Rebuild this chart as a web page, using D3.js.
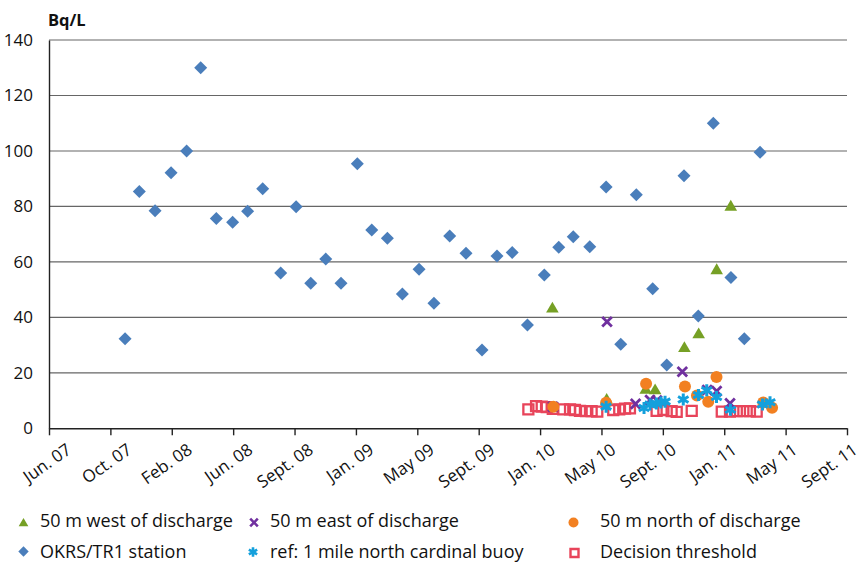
<!DOCTYPE html>
<html><head><meta charset="utf-8">
<script src="https://cdn.jsdelivr.net/npm/d3@7"></script>
<style>
body{margin:0;background:#fff}
text{font-family:"Open Sans",sans-serif;fill:#111}
</style>
</head><body>
<svg id="chart" width="865" height="564"></svg>
<script>
// ---- data (x = decimal year, y = Bq/L) ----
const yTickValues = [0, 20, 40, 60, 80, 100, 120, 140];
const xTickLabels = ["Jun. 07","Oct. 07","Feb. 08","Jun. 08","Sept. 08","Jan. 09","May 09","Sept. 09","Jan. 10","May 10","Sept. 10","Jan. 11","May 11","Sept. 11"];
const xStart = 2007.417, xEnd = 2011.667;

const okrsDates  = [2007.822,2007.898,2007.982,2008.067,2008.150,2008.225,2008.308,2008.395,2008.475,2008.555,2008.651,2008.733,2008.811,2008.891,2008.972,2009.059,2009.136,2009.219,2009.299,2009.388,2009.467,2009.551,2009.638,2009.723,2009.803,2009.884,2009.965,2010.055,2010.132,2010.209,2010.297,2010.384,2010.462,2010.545,2010.632,2010.707,2010.799,2010.875,2010.955,2011.049,2011.120,2011.204];
const okrsValues = [32.3,85.4,78.4,92.1,100,130,75.6,74.3,78.3,86.4,56,79.9,52.3,61,52.3,95.4,71.5,68.5,48.4,57.3,45.1,69.3,63.1,28.2,62.1,63.4,37.2,55.3,65.3,69.1,65.5,87,30.3,84.2,50.3,22.8,91.1,40.5,110,54.4,32.3,99.5];

const westDates  = [2010.098,2010.387,2010.595,2010.645,2010.801,2010.877,2010.973,2011.048];
const westValues = [43.5,10.6,14.2,14,29.2,34.2,57.3,80.2];

const eastDates  = [2010.101,2010.389,2010.541,2010.618,2010.655,2010.790,2010.922,2010.973,2011.044];
const eastValues = [7.8,38.4,8.8,10.2,10,20.4,13.8,13.4,9];

const northDates  = [2010.103,2010.384,2010.597,2010.804,2010.868,2010.928,2010.972,2011.221,2011.268];
const northValues = [7.8,9.2,16.1,15.1,11.8,9.6,18.5,9.3,7.4];

const buoyDates  = [2010.384,2010.586,2010.618,2010.652,2010.676,2010.698,2010.795,2010.876,2010.920,2010.972,2011.046,2011.217,2011.257];
const buoyValues = [7.8,7.3,8.6,8.9,9.3,9.6,10.4,12,13.7,11.3,6.7,8.6,9.4];

const thresholdDates  = [2009.970,2010.011,2010.041,2010.068,2010.100,2010.156,2010.192,2010.218,2010.245,2010.277,2010.307,2010.337,2010.422,2010.454,2010.485,2010.511,2010.653,2010.689,2010.733,2010.760,2010.840,2011.000,2011.044,2011.080,2011.115,2011.150,2011.186];
const thresholdValues = [6.8,8,7.8,7.6,7,6.8,6.8,6.6,6.3,6.2,6.2,6,6.6,6.8,7.1,7.2,6.3,6.6,6.2,5.9,6.3,6,6,6.2,6.2,6.2,6];

const legendLabels = ["50 m west of discharge","50 m east of discharge","50 m north of discharge","OKRS/TR1 station","ref: 1 mile north cardinal buoy","Decision threshold"];

// ---- styles ----
const COLORS = {west:"#76a025", east:"#70309f", north:"#f28021", okrs:"#4a7ebb", buoy:"#14a0dc", thr:"#e8445a"};

const svg = d3.select("#chart");
const pLeft = 49, pRight = 847, pTop = 40, pBottom = 428.3;
const x = d3.scaleLinear().domain([xStart, xEnd]).range([pLeft, pRight]);
const y = d3.scaleLinear().domain([0, 140]).range([pBottom, pTop]);

// gridlines
svg.append("g").selectAll("line").data(yTickValues.filter(v => v > 0)).join("line")
  .attr("x1", pLeft).attr("x2", pRight)
  .attr("y1", d => y(d)).attr("y2", d => y(d))
  .attr("stroke", "#666").attr("stroke-width", 1.1);

// y axis
const yAxis = svg.append("g").attr("transform", `translate(${pLeft},0)`)
  .call(d3.axisLeft(y).tickValues(yTickValues).tickSize(0).tickPadding(16));
yAxis.select(".domain").attr("stroke", "#222").attr("stroke-width", 1.4);
yAxis.selectAll("text").attr("font-size", 17).attr("fill", "#111").attr("font-family", '"Open Sans",sans-serif');

// x axis
const xTickValues = d3.range(xTickLabels.length).map(i => xStart + i * (xEnd - xStart) / (xTickLabels.length - 1));
const xAxis = svg.append("g").attr("transform", `translate(0,${pBottom})`)
  .call(d3.axisBottom(x).tickValues(xTickValues).tickSize(7).tickSizeOuter(0).tickFormat((d, i) => xTickLabels[i]));
xAxis.select(".domain").attr("stroke", "#222").attr("stroke-width", 1.4);
xAxis.selectAll(".tick line").attr("stroke", "#222").attr("stroke-width", 1.4);
xAxis.selectAll("text")
  .attr("font-size", 17).attr("fill", "#111").attr("font-family", '"Open Sans",sans-serif')
  .attr("text-anchor", "end").attr("y", 0).attr("dy", "0.72em")
  .attr("transform", (d, i) => `translate(${16 - 0.9 * i},${14}) rotate(-35)`);

// unit label
svg.append("text").attr("x", 48).attr("y", 26).attr("font-size", 16.5).attr("font-weight", "bold").text("Bq/L");

// ---- marker paths ----
const mk = {
  diamond: r => `M0,${-r}L${r},0L0,${r}L${-r},0Z`,
  triangle: r => `M0,${-r}L${r*1.05},${r*0.8}L${-r*1.05},${r*0.8}Z`,
  cross: r => `M${-r},${-r}L${r},${r}M${-r},${r}L${r},${-r}`,
  star: r => { const a = r*0.866, b = r*0.5; return `M0,${-r}L0,${r}M${-a},${-b}L${a},${b}M${-a},${b}L${a},${-b}`; },
  square: r => `M${-r},${-r}H${r}V${r}H${-r}Z`
};

function zip(xs, ys) { return xs.map((d, i) => [d, ys[i]]); }

const plot = svg.append("g");
plot.append("g").selectAll("path").data(zip(thresholdDates, thresholdValues)).join("path")
  .attr("d", mk.square(5)).attr("transform", d => `translate(${x(d[0])},${y(d[1])})`)
  .attr("fill", "none").attr("stroke", COLORS.thr).attr("stroke-width", 2.3);
plot.append("g").selectAll("path").data(zip(okrsDates, okrsValues)).join("path")
  .attr("d", mk.diamond(6.5)).attr("transform", d => `translate(${x(d[0])},${y(d[1])})`)
  .attr("fill", COLORS.okrs);
plot.append("g").selectAll("path").data(zip(westDates, westValues)).join("path")
  .attr("d", mk.triangle(6)).attr("transform", d => `translate(${x(d[0])},${y(d[1])})`)
  .attr("fill", COLORS.west);
plot.append("g").selectAll("path").data(zip(eastDates, eastValues)).join("path")
  .attr("d", mk.cross(4.8)).attr("transform", d => `translate(${x(d[0])},${y(d[1])})`)
  .attr("fill", "none").attr("stroke", COLORS.east).attr("stroke-width", 2.8);
plot.append("g").selectAll("circle").data(zip(northDates, northValues)).join("circle")
  .attr("cx", d => x(d[0])).attr("cy", d => y(d[1])).attr("r", 6)
  .attr("fill", COLORS.north);
plot.append("g").selectAll("path").data(zip(buoyDates, buoyValues)).join("path")
  .attr("d", mk.star(6)).attr("transform", d => `translate(${x(d[0])},${y(d[1])})`)
  .attr("fill", "none").attr("stroke", COLORS.buoy).attr("stroke-width", 3);

// ---- legend ----
const legendItems = [
  {label: legendLabels[0], mx: 23.5, my: 522.5, tx: 40,  ty: 527, draw: g => g.append("path").attr("d", mk.triangle(4.6)).attr("fill", COLORS.west)},
  {label: legendLabels[1], mx: 254,  my: 522.5, tx: 270, ty: 527, draw: g => g.append("path").attr("d", mk.cross(3.8)).attr("fill","none").attr("stroke", COLORS.east).attr("stroke-width", 2.6)},
  {label: legendLabels[2], mx: 573.5, my: 522.5, tx: 600, ty: 527, draw: g => g.append("circle").attr("r", 5).attr("fill", COLORS.north)},
  {label: legendLabels[3], mx: 23.5, my: 551.5, tx: 40,  ty: 557.5, draw: g => g.append("path").attr("d", mk.diamond(5.2)).attr("fill", COLORS.okrs)},
  {label: legendLabels[4], mx: 253,  my: 552, tx: 270, ty: 557.5, draw: g => g.append("path").attr("d", mk.star(4.8)).attr("fill","none").attr("stroke", COLORS.buoy).attr("stroke-width", 2.6)},
  {label: legendLabels[5], mx: 574.5, my: 553, tx: 600, ty: 557.5, draw: g => g.append("path").attr("d", mk.square(4)).attr("fill","none").attr("stroke", COLORS.thr).attr("stroke-width", 2.4)}
];
const lg = svg.append("g");
legendItems.forEach(it => {
  const g = lg.append("g").attr("transform", `translate(${it.mx},${it.my})`);
  it.draw(g);
  lg.append("text").attr("x", it.tx).attr("y", it.ty).attr("font-size", 18).text(it.label);
});
</script>
</body></html>
